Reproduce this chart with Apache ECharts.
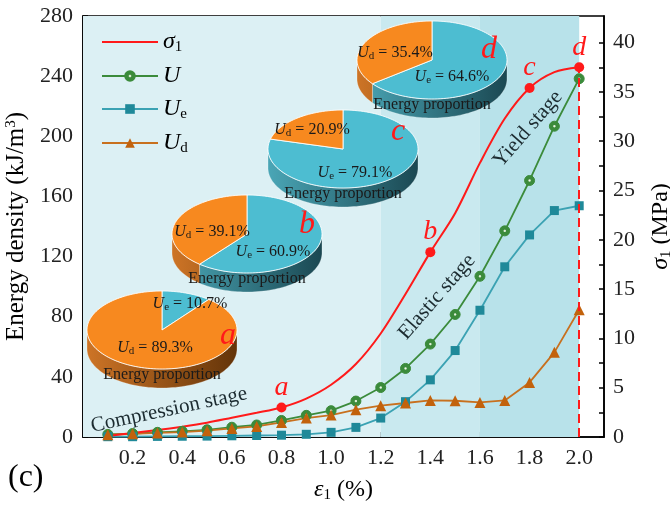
<!DOCTYPE html>
<html>
<head>
<meta charset="utf-8">
<script src="https://cdn.jsdelivr.net/npm/echarts@6/dist/echarts.min.js"></script>
<style>
  html, body { margin: 0; padding: 0; background: #fff; }
  #main { width: 670px; height: 507px; }
</style>
</head>
<body>
<div id="main"></div>
<script>
// axial strain (%)
const strain = [0.1, 0.2, 0.3, 0.4, 0.5, 0.6, 0.7, 0.8, 0.9, 1.0, 1.1, 1.2, 1.3, 1.4, 1.5, 1.6, 1.7, 1.8, 1.9, 2.0];
// energy densities (kJ/m3)
const energyU  = [1.7, 2.3, 3.1, 3.8, 4.8, 6.5, 8.0, 11.0, 14.4, 17.5, 23.9, 32.9, 45.6, 61.8, 81.5, 106.9, 137.1, 170.6, 206.7, 238.3];
const energyUe = [0.2, 0.2, 0.4, 0.5, 0.6, 0.8, 1.0, 1.2, 1.8, 3.1, 6.4, 12.6, 23.5, 38.0, 57.5, 84.3, 113.2, 134.4, 150.6, 153.8];
const energyUd = [1.5, 2.1, 2.7, 3.3, 4.2, 5.7, 7.0, 9.7, 12.6, 14.6, 18.2, 20.8, 22.6, 24.3, 24.1, 23.0, 24.3, 36.3, 56.3, 84.6];
// axial stress sigma1 (MPa)
const sigma1 = [0.1, 0.4, 0.7, 1.05, 1.45, 1.95, 2.45, 3.0, 3.9, 5.3, 7.4, 10.5, 14.5, 18.75, 22.7, 27.8, 32.3, 35.4, 37.0, 37.5];

// marked points on the stress curve
const pointTags = ['a', 'b', 'c', 'd'];
const pointStrain = [0.8, 1.4, 1.8, 2.0];

// energy proportion pies (%)
const pieUe = [10.7, 60.9, 79.1, 64.6];
const pieUd = [89.3, 39.1, 20.9, 35.4];

// stage bands
const stageBounds = [0, 1.2, 1.6, 2.0];
const stageNames = ['Compression stage', 'Elastic stage', 'Yield stage'];

// ticks and labels
const xTicks = [0.1, 0.2, 0.3, 0.4, 0.5, 0.6, 0.7, 0.8, 0.9, 1.0, 1.1, 1.2, 1.3, 1.4, 1.5, 1.6, 1.7, 1.8, 1.9, 2.0];
const xLabels = [0.2, 0.4, 0.6, 0.8, 1.0, 1.2, 1.4, 1.6, 1.8, 2.0];
const yTicks = [0, 20, 40, 60, 80, 100, 120, 140, 160, 180, 200, 220, 240, 260, 280];
const yLabels = [0, 40, 80, 120, 160, 200, 240, 280];
const y2Ticks = [0, 2.5, 5, 7.5, 10, 12.5, 15, 17.5, 20, 22.5, 25, 27.5, 30, 32.5, 35, 37.5, 40];
const y2Labels = [0, 5, 10, 15, 20, 25, 30, 35, 40];

const FONT = 'Liberation Serif';
const chart = echarts.init(document.getElementById('main'));

// pie layout (pixels): centre, label offsets
const PIE_RX = 75, PIE_RY = 39, PIE_DEPTH = 19;
const pieLayout = [
  { c: [162, 330], ud: [-7, 18], ue: [28, -26], tag: [66, 6] },
  { c: [247, 234], ud: [-35, -2], ue: [26, 18], tag: [60, -9] },
  { c: [343, 149], ud: [-31, -19], ue: [12, 24], tag: [55, -17] },
  { c: [432, 60], ud: [-37, -7], ue: [20, 17], tag: [57, -10] }
];
const bandColors = ['#dcf0f4', '#c9e9ef', '#b8e2ea'];
const stageLayout = [
  { x: 169, y: 410, rot: 12 },
  { x: 437, y: 297, rot: 49 },
  { x: 528, y: 129, rot: 49 }
];

function arc(cx, cy, a0, a1, dy) {
  const pts = [];
  const n = Math.max(2, Math.ceil(Math.abs(a1 - a0) / 0.04));
  for (let k = 0; k <= n; k++) {
    const t = a0 + (a1 - a0) * k / n;
    pts.push([cx + PIE_RX * Math.cos(t), cy + PIE_RY * Math.sin(t) + dy]);
  }
  return pts;
}

const subRich = {
  u: { fontFamily: FONT, fontSize: 16, fontStyle: 'italic', lineHeight: 18 },
  s: { fontFamily: FONT, fontSize: 11, verticalAlign: 'bottom', lineHeight: 9 },
  n: { fontFamily: FONT, fontSize: 16, lineHeight: 18 }
};

function pieText(x, y, sub, val) {
  return {
    type: 'text', x: x, y: y,
    style: {
      text: '{u|U}{s|' + sub + '}{n| = ' + val.toFixed(1) + '%}',
      rich: subRich, fill: '#1a1a1a', align: 'center', verticalAlign: 'middle'
    }
  };
}

const pieSeries = {
  type: 'custom',
  coordinateSystem: 'none',
  silent: true,
  z: 5,
  data: pieUe.map((v, i) => [v, pieUd[i]]),
  renderItem: function (params, api) {
    const i = params.dataIndex;
    const ue = api.value(0), ud = api.value(1);
    const L = pieLayout[i];
    const cx = L.c[0], cy = L.c[1];
    const start = -Math.PI / 2;
    const mid = start + 2 * Math.PI * ue / (ue + ud);
    const slices = [
      { a0: start, a1: mid, top: '#4dbdd1', side: ['#4aa6b6', '#1b4852'] },
      { a0: mid, a1: start + 2 * Math.PI, top: '#f7891f', side: ['#cd7426', '#633409'] }
    ];
    const children = [];
    slices.forEach(s => {
      const lo = Math.max(s.a0, 0), hi = Math.min(s.a1, Math.PI);
      if (hi > lo) {
        const pts = arc(cx, cy, lo, hi, 0).concat(arc(cx, cy, hi, lo, PIE_DEPTH));
        children.push({
          type: 'polygon', shape: { points: pts },
          style: {
            fill: new echarts.graphic.LinearGradient(cx - PIE_RX, 0, cx + PIE_RX, 0,
              [{ offset: 0, color: s.side[0] }, { offset: 1, color: s.side[1] }], true),
            stroke: 'rgba(255,255,255,0.35)', lineWidth: 0.8
          }
        });
      }
    });
    slices.forEach(s => {
      children.push({
        type: 'polygon',
        shape: { points: [[cx, cy]].concat(arc(cx, cy, s.a0, s.a1, 0)) },
        style: { fill: s.top, stroke: 'rgba(255,255,255,0.85)', lineWidth: 1 }
      });
    });
    children.push(pieText(cx + L.ud[0], cy + L.ud[1], 'd', ud));
    children.push(pieText(cx + L.ue[0], cy + L.ue[1], 'e', ue));
    children.push({
      type: 'text', x: cx, y: cy + 45,
      style: { text: 'Energy proportion', fill: '#1a1a1a', font: '16px ' + FONT, align: 'center', verticalAlign: 'middle' }
    });
    children.push({
      type: 'text', x: cx + L.tag[0], y: cy + L.tag[1],
      style: { text: pointTags[i], fill: '#ff1a1a', font: 'italic 32px ' + FONT, align: 'center', verticalAlign: 'middle' }
    });
    return { type: 'group', children: children };
  }
};

const sigmaData = strain.map((x, i) => {
  const k = pointStrain.indexOf(x);
  if (k < 0) return [x, sigma1[i]];
  return {
    value: [x, sigma1[i]], symbol: 'circle', symbolSize: 10,
    label: { show: true, formatter: pointTags[k] }
  };
});

const baseName = { fontFamily: FONT, fontSize: 24, color: '#000', lineHeight: 26 };
const subName = { fontFamily: FONT, fontSize: 15, color: '#000', verticalAlign: 'bottom', lineHeight: 13 };
const itName = Object.assign({}, baseName, { fontStyle: 'italic' });

const greenDot = new echarts.graphic.RadialGradient(0.5, 0.5, 0.5, [
  { offset: 0, color: '#f4faf2' },
  { offset: 0.14, color: '#d4e8ce' },
  { offset: 0.3, color: '#3b8b3b' },
  { offset: 1, color: '#3b8b3b' }
]);

const option = {
  animation: false,
  grid: {
    left: 83, right: 66, top: 16, bottom: 70, outerBoundsMode: 'none',
    show: true, borderColor: '#000', borderWidth: 1.6, backgroundColor: 'transparent'
  },
  legend: {
    data: [{ name: 'σ1', itemStyle: { opacity: 0 } }, 'U', 'Ue', 'Ud'],
    orient: 'vertical', left: 96, top: 25,
    itemWidth: 56, itemHeight: 12, itemGap: 9,
    formatter: function (n) {
      return { 'σ1': '{g|σ}{s|1}', 'U': '{g|U}', 'Ue': '{g|U}{s|e}', 'Ud': '{g|U}{s|d}' }[n];
    },
    textStyle: { fontFamily: FONT, fontSize: 24, rich: { g: itName, s: subName } }
  },
  xAxis: {
    type: 'value', min: 0, max: 2.1,
    name: '{e|ε}{s|1}{t| (%)}', nameLocation: 'middle', nameGap: 40,
    nameTextStyle: { rich: { e: itName, s: subName, t: baseName } },
    axisLine: { lineStyle: { color: '#000', width: 1.6 } },
    axisTick: { inside: true, length: 5, lineStyle: { color: '#000', width: 1.5 }, customValues: xTicks },
    axisLabel: { customValues: xLabels, formatter: v => v.toFixed(1), color: '#222', fontFamily: FONT, fontSize: 22, margin: 10 },
    splitLine: { show: false }
  },
  yAxis: [{
    type: 'value', min: 0, max: 280, position: 'left',
    name: '{t|Energy density (kJ/m}{p|3}{t|)}', nameLocation: 'middle', nameGap: 41,
    nameTextStyle: { rich: { t: Object.assign({}, baseName, { fontSize: 25 }), p: { fontFamily: FONT, fontSize: 15, color: '#000', verticalAlign: 'top', lineHeight: 13 } } },
    axisLine: { show: true, lineStyle: { color: '#000', width: 1.6 } },
    axisTick: { inside: true, length: 5, lineStyle: { color: '#000', width: 1.5 }, customValues: yTicks },
    axisLabel: { customValues: yLabels, color: '#222', fontFamily: FONT, fontSize: 22, margin: 10 },
    splitLine: { show: false }
  }, {
    type: 'value', min: 0, max: 42.7, position: 'right',
    name: '{g|σ}{s|1}{t| (MPa)}', nameLocation: 'middle', nameGap: 44,
    nameTextStyle: { rich: { g: itName, s: subName, t: baseName } },
    axisLine: { show: true, lineStyle: { color: '#000', width: 1.6 } },
    axisTick: { inside: true, length: 5, lineStyle: { color: '#000', width: 1.5 }, customValues: y2Ticks },
    axisLabel: { customValues: y2Labels, color: '#222', fontFamily: FONT, fontSize: 22, margin: 9 },
    splitLine: { show: false }
  }],
  graphic: stageNames.map((t, i) => ({
    type: 'text', z: 100,
    x: stageLayout[i].x, y: stageLayout[i].y, rotation: stageLayout[i].rot * Math.PI / 180,
    style: { text: t, fill: '#1c2b30', font: '21px ' + FONT, align: 'center', verticalAlign: 'middle' }
  })).concat([{
    type: 'text', z: 100, left: 8, top: 462,
    style: { text: '(c)', fill: '#000', font: '32px ' + FONT }
  }]),
  series: [
    {
      name: 'bands', type: 'line', data: [], silent: true,
      markArea: {
        silent: true,
        data: bandColors.map((c, i) => [
          { xAxis: stageBounds[i], itemStyle: { color: c } },
          { xAxis: stageBounds[i + 1] }
        ])
      }
    },
    {
      name: 'U', type: 'line', data: strain.map((x, i) => [x, energyU[i]]),
      symbol: 'circle', symbolSize: 10,
      itemStyle: { color: greenDot, borderColor: '#3b8b3b', borderWidth: 1 },
      lineStyle: { color: '#3b8b3b', width: 1.8 }
    },
    {
      name: 'Ue', type: 'line', data: strain.map((x, i) => [x, energyUe[i]]),
      symbol: 'rect', symbolSize: 9,
      itemStyle: { color: '#1f8999' },
      lineStyle: { color: '#3ba2b3', width: 1.8 }
    },
    {
      name: 'Ud', type: 'line', data: strain.map((x, i) => [x, energyUd[i]]),
      symbol: 'triangle', symbolSize: 11,
      itemStyle: { color: '#c2620c' },
      lineStyle: { color: '#c8701e', width: 1.8 }
    },
    {
      name: 'σ1', type: 'line', yAxisIndex: 1, data: sigmaData,
      symbol: 'none', smooth: 0.3,
      itemStyle: { color: '#ff1a1a' },
      lineStyle: { color: '#ff1a1a', width: 2 },
      label: { position: 'top', distance: 1, color: '#ff1a1a', fontFamily: FONT, fontStyle: 'italic', fontSize: 28 },
      markLine: {
        silent: true, symbol: ['none', 'none'], label: { show: false },
        lineStyle: { color: '#ff1a1a', type: [9, 5], width: 2 },
        data: [[{ coord: [strain[strain.length - 1], 0] }, { coord: [strain[strain.length - 1], sigma1[sigma1.length - 1]] }]]
      }
    },
    pieSeries
  ]
};

chart.setOption(option);
</script>
</body>
</html>
